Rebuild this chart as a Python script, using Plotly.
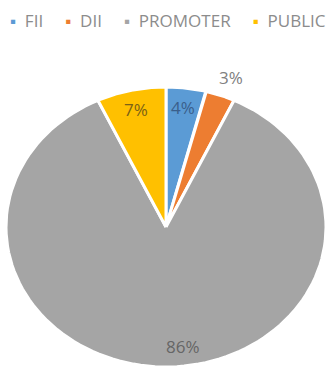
import numpy as np
import plotly.graph_objects as go

# Shareholding pattern
categories = ["FII", "DII", "PROMOTER", "PUBLIC"]
shares = [4, 3, 86, 7]  # percent

# Styling
slice_colors = ["#5B9BD5", "#ED7D31", "#A5A5A5", "#FFC000"]
label_colors = ["#3a5f8c", "#808080", "#666666", "#7a6216"]
label_radius = [0.86, 1.14, 0.86, 0.86]   # fraction of pie radius
label_nudge_deg = [0, 1, -7, 0]           # small angular shift of label

W, H = 332, 372
FONT = "Open Sans"

fig = go.Figure()

total = float(sum(shares))
cum = 0.0
for name, v, col, lc, r, nd in zip(categories, shares, slice_colors,
                                    label_colors, label_radius, label_nudge_deg):
    a0 = cum / total * 2 * np.pi
    a1 = (cum + v) / total * 2 * np.pi
    cum += v
    # wedge, clockwise from 12 o'clock
    th = np.linspace(a0, a1, 120)
    xs = np.concatenate([[0.0], np.sin(th), [0.0]])
    ys = np.concatenate([[0.0], np.cos(th), [0.0]])
    fig.add_trace(go.Scatter(
        x=xs, y=ys, mode="lines", fill="toself", fillcolor=col,
        line=dict(color="white", width=3), name=name,
        hoverinfo="skip", showlegend=False,
    ))
    mid = (a0 + a1) / 2 + np.deg2rad(nd)
    fig.add_annotation(
        x=r * np.sin(mid), y=r * np.cos(mid), xref="x", yref="y",
        text=f"{v:g}%", showarrow=False,
        font=dict(family=FONT, size=17, color=lc),
    )

# Legend row built from the categories and colours
nb = "\u00a0"
entries = [
    f"<span style='color:{c}'>\u25aa</span>{nb*2}{n}"
    for n, c in zip(categories, slice_colors)
]
fig.add_annotation(
    x=0.505, y=1.092, xref="paper", yref="paper",
    xanchor="center", yanchor="middle", showarrow=False,
    text=(nb * 5).join(entries),
    font=dict(family=FONT, size=17, color="#8c8c8c"),
)

fig.update_layout(
    width=W, height=H,
    margin=dict(l=6, r=6, t=50, b=5),
    paper_bgcolor="white", plot_bgcolor="white",
    xaxis=dict(range=[-1, 1], visible=False, fixedrange=True),
    yaxis=dict(range=[-1, 1.264], visible=False, fixedrange=True),
    showlegend=False,
)

fig.write_html("out.html", config={"displayModeBar": False})
